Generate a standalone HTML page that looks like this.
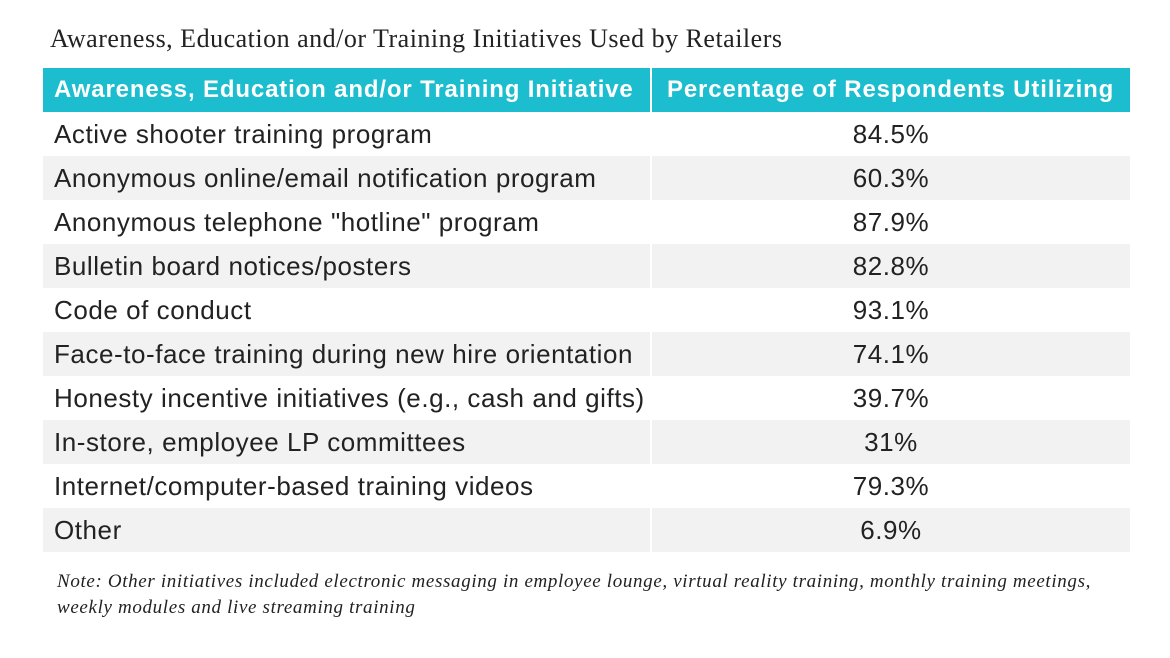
<!DOCTYPE html>
<html><head><meta charset="utf-8"><style>
body{margin:0;background:#fff;width:1170px;height:658px;overflow:hidden;position:relative;font-family:"Liberation Sans",sans-serif}
.title{position:absolute;left:50px;top:24px;font-family:"Liberation Serif",serif;font-size:26px;color:#222;letter-spacing:0.5px;white-space:nowrap}
table{position:absolute;left:43px;top:68px;width:1087px;border-collapse:collapse}
td,th{height:44px;padding:0;font-size:26px;color:#222;font-weight:normal;letter-spacing:0.55px;white-space:nowrap}
th{background:#1bbdcf;color:#fff;font-weight:bold;text-align:left;padding-left:11px;font-size:24px;letter-spacing:0.85px}
th+th{text-align:left;padding-left:15px;border-left:2px solid #fff}
td:first-child{padding-left:11px;width:596px}
td+td{text-align:center;border-left:2px solid #fff}
tr:nth-child(odd) td{background:#f2f2f2}
.note{position:absolute;left:57px;top:569px;font-family:"Liberation Serif",serif;font-style:italic;font-size:19px;letter-spacing:0.65px;line-height:26px;color:#222;white-space:nowrap}
</style></head><body>
<div class="title">Awareness, Education and/or Training Initiatives Used by Retailers</div>
<table>
<tr><th>Awareness, Education and/or Training Initiative</th><th>Percentage of Respondents Utilizing</th></tr>
<tr><td>Active shooter training program</td><td>84.5%</td></tr>
<tr><td>Anonymous online/email notification program</td><td>60.3%</td></tr>
<tr><td>Anonymous telephone "hotline" program</td><td>87.9%</td></tr>
<tr><td>Bulletin board notices/posters</td><td>82.8%</td></tr>
<tr><td>Code of conduct</td><td>93.1%</td></tr>
<tr><td>Face-to-face training during new hire orientation</td><td>74.1%</td></tr>
<tr><td>Honesty incentive initiatives (e.g., cash and gifts)</td><td>39.7%</td></tr>
<tr><td>In-store, employee LP committees</td><td>31%</td></tr>
<tr><td>Internet/computer-based training videos</td><td>79.3%</td></tr>
<tr><td>Other</td><td>6.9%</td></tr>
</table>
<div class="note">Note: Other initiatives included electronic messaging in employee lounge, virtual reality training, monthly training meetings,<br>weekly modules and live streaming training</div>
</body></html>
